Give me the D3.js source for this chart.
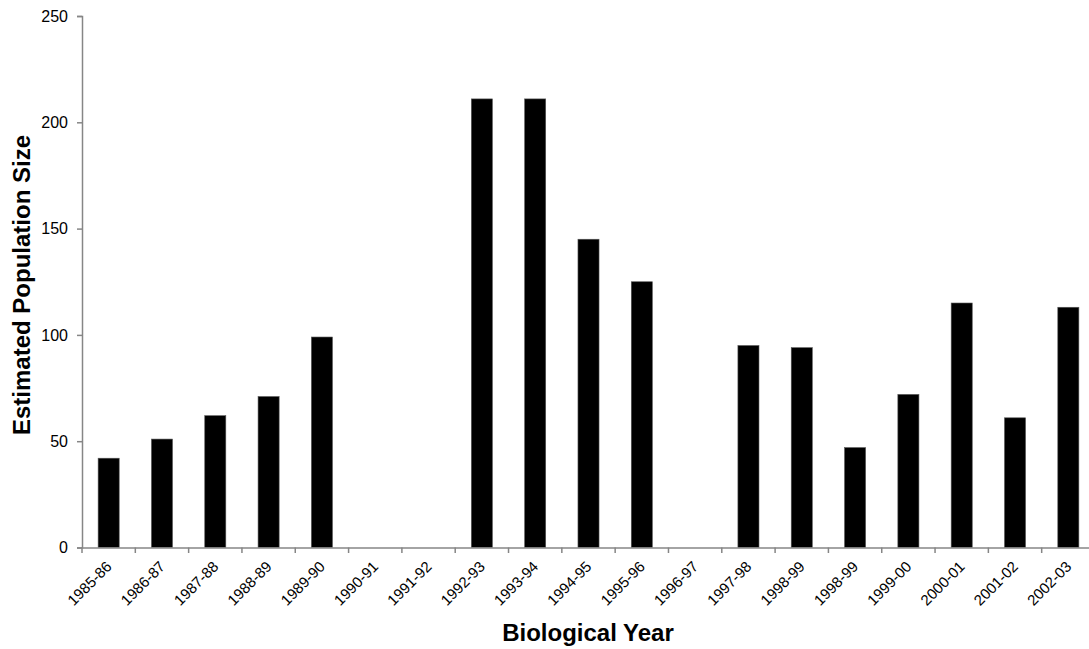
<!DOCTYPE html>
<html><head><meta charset="utf-8">
<script src="https://cdn.jsdelivr.net/npm/d3@7"></script>
<style>body{margin:0;background:#fff}svg{display:block}text{font-family:"Liberation Sans",Arial,sans-serif}</style>
</head><body><svg id="c" width="1089" height="649"></svg>
<script>
const categories = ["1985-86","1986-87","1987-88","1988-89","1989-90","1990-91","1991-92","1992-93","1993-94","1994-95","1995-96","1996-97","1997-98","1998-99","1998-99 ","1999-00","2000-01","2001-02","2002-03"];
const values = [42,51,62,71,99,0,0,211,211,145,125,0,95,94,47,72,115,61,113];
const yTicks = [0,50,100,150,200,250];

const svg = d3.select("#c");
const xb = d3.scaleBand().domain(categories).range([82,1095]);
const y = d3.scaleLinear().domain([0,250]).range([547.5,16]);
const barW = xb.bandwidth()*0.395;

const data = categories.map((c,i)=>({c, v: values[i]}));
svg.append("g").selectAll("rect").data(data.filter(d=>d.v>0)).join("rect")
  .attr("x", d=>xb(d.c)+xb.bandwidth()/2-barW/2)
  .attr("width", barW)
  .attr("y", d=>y(d.v))
  .attr("height", d=>y(0)-y(d.v))
  .attr("fill","#000").attr("stroke","#555").attr("stroke-width",0.6);

// y axis
const ya = svg.append("g").attr("transform","translate(82,0)")
  .call(d3.axisLeft(y).tickValues(yTicks).tickSize(5).tickPadding(9));
ya.select(".domain").attr("stroke","#868686").attr("stroke-width",1.5);
ya.selectAll(".tick line").attr("stroke","#868686").attr("stroke-width",1.5);
ya.selectAll(".tick text").attr("font-size",16).attr("fill","#000").attr("font-family","Liberation Sans, Arial, sans-serif");

// x axis
const xa = svg.append("g").attr("transform","translate(0,547.5)")
  .call(d3.axisBottom(xb).tickSize(0).tickFormat(d=>d.trim()));
xa.select(".domain").attr("stroke","#868686").attr("stroke-width",1.5);
xa.selectAll(".tick line").remove();
xa.selectAll(".tick text")
  .attr("font-size",15).attr("fill","#000").attr("font-family","Liberation Sans, Arial, sans-serif")
  .attr("text-anchor","end").attr("dy",null).attr("y",null)
  .attr("transform","translate(4,20) rotate(-45)");
// tick marks at band boundaries
svg.append("g").selectAll("line").data(categories).join("line")
  .attr("x1", d=>xb(d)).attr("x2", d=>xb(d))
  .attr("y1", 547.5).attr("y2", 553)
  .attr("stroke","#868686").attr("stroke-width",1.5);

svg.append("text").attr("x",588).attr("y",641).attr("text-anchor","middle")
  .attr("font-size",24).attr("font-weight","bold").text("Biological Year");
svg.append("text").attr("transform","translate(30,285) rotate(-90)").attr("text-anchor","middle")
  .attr("font-size",24).attr("font-weight","bold").text("Estimated Population Size");
</script></body></html>
